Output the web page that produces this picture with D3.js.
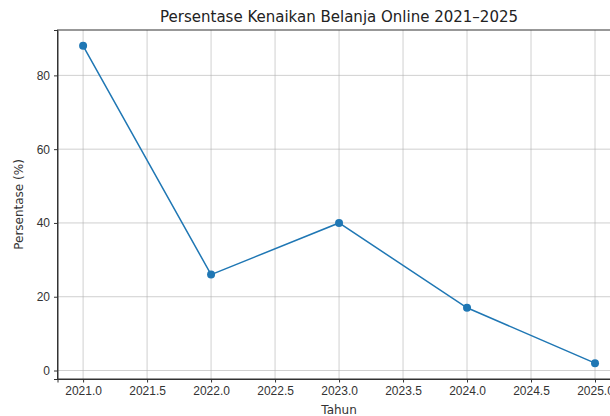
<!DOCTYPE html>
<html>
<head>
<meta charset="utf-8">
<script src="https://cdn.jsdelivr.net/npm/d3@7"></script>
<style>
  html, body { margin: 0; padding: 0; background: #fff; }
  svg { display: block; font-family: "DejaVu Sans", sans-serif; }
  .axis text { font-size: 12px; fill: #333; }
  .axis path, .axis line { stroke: #333; }
  .grid line { stroke: #b0b0b0; stroke-opacity: 0.6; }
</style>
</head>
<body>
<svg id="chart"></svg>
<script>
// ---------- Data ----------
const years = [2021, 2022, 2023, 2024, 2025];
const persen = [88, 26, 40, 17, 2];
const xTicks = [2021.0, 2021.5, 2022.0, 2022.5, 2023.0, 2023.5, 2024.0, 2024.5, 2025.0];
const yTicks = [0, 20, 40, 60, 80];

const W = 610, H = 416;
// plot area runs past the right edge (cropped like the reference)
const M = { t: 30, l: 57.5, r: -10.6, b: 37 };
const svg = d3.select("#chart").attr("width", W).attr("height", H);
const iw = W - M.l - M.r, ih = H - M.t - M.b;
const g = svg.append("g").attr("transform", `translate(${M.l},${M.t})`);

// matplotlib-style 5% margins
const xPad = (d3.max(years) - d3.min(years)) * 0.05;
const yPad = (d3.max(persen) - d3.min(persen)) * 0.05;
const x = d3.scaleLinear().domain([d3.min(years) - xPad, d3.max(years) + xPad]).range([0, iw]);
const y = d3.scaleLinear().domain([d3.min(persen) - yPad, d3.max(persen) + yPad]).range([ih, 0]);

// grid
g.append("g").attr("class", "grid").selectAll("line").data(xTicks).enter().append("line")
  .attr("x1", d => x(d)).attr("x2", d => x(d)).attr("y1", 0).attr("y2", ih);
g.append("g").attr("class", "grid").selectAll("line").data(yTicks).enter().append("line")
  .attr("x1", 0).attr("x2", iw).attr("y1", d => y(d)).attr("y2", d => y(d));

// axes
g.append("g").attr("class", "axis").attr("transform", `translate(0,${ih})`)
  .call(d3.axisBottom(x).tickValues(xTicks).tickFormat(d3.format(".1f")).tickSizeOuter(0).tickSize(3.5).tickPadding(4));
g.append("g").attr("class", "axis")
  .call(d3.axisLeft(y).tickValues(yTicks).tickFormat(d3.format("d")).tickSizeOuter(0).tickSize(3.5).tickPadding(4));

// frame
g.append("rect").attr("width", iw).attr("height", ih)
  .attr("fill", "none").attr("stroke", "#333").attr("stroke-width", 1);

// line + markers
const pts = years.map((yr, i) => ({ t: yr, v: persen[i] }));
const line = d3.line().x(d => x(d.t)).y(d => y(d.v));
g.append("path").datum(pts).attr("fill", "none").attr("stroke", "#1f77b4").attr("stroke-width", 1.5).attr("d", line);
g.selectAll("circle").data(pts).enter().append("circle")
  .attr("cx", d => x(d.t)).attr("cy", d => y(d.v)).attr("r", 4).attr("fill", "#1f77b4");

// labels
svg.append("text").attr("x", M.l + iw / 2).attr("y", 22).attr("text-anchor", "middle")
  .attr("font-size", "15px").attr("fill", "#222").text("Persentase Kenaikan Belanja Online 2021–2025");
svg.append("text").attr("x", M.l + iw / 2).attr("y", 414).attr("text-anchor", "middle")
  .attr("font-size", "12px").attr("fill", "#333").text("Tahun");
svg.append("text").attr("transform", `translate(23,${M.t + ih / 2}) rotate(-90)`).attr("text-anchor", "middle")
  .attr("font-size", "12px").attr("fill", "#333").text("Persentase (%)");
</script>
</body>
</html>
